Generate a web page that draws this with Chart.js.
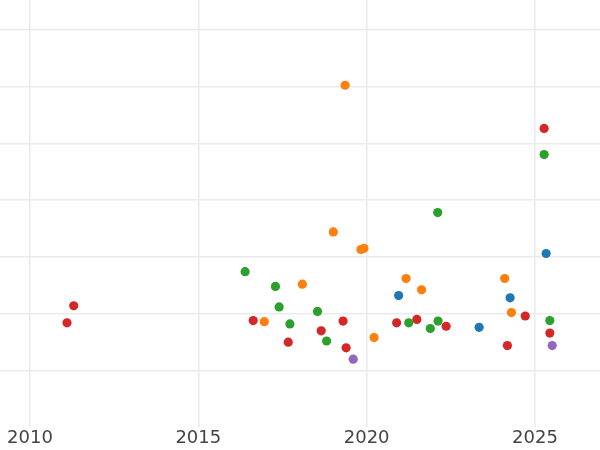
<!DOCTYPE html>
<html>
<head>
<meta charset="utf-8">
<script src="https://cdn.jsdelivr.net/npm/chart.js@4/dist/chart.umd.min.js"></script>
<style>
  html, body { margin: 0; padding: 0; background: #ffffff; }
  #wrap { width: 600px; height: 450px; position: relative; }
</style>
</head>
<body>
<div id="wrap"><canvas id="c"></canvas></div>
<script>
// Series (x = year, y = value in gridline units)
const blueX   = [2020.95, 2024.26, 2023.34, 2025.33];
const blueY   = [2.32, 2.28, 1.76, 3.06];

const orangeX = [2016.96, 2018.09, 2020.22, 2019.36, 2019.01, 2019.83, 2019.92, 2021.17, 2021.63, 2024.10, 2024.30];
const orangeY = [1.86, 2.52, 1.58, 6.02, 3.44, 3.13, 3.15, 2.62, 2.42, 2.62, 2.02];

const greenX  = [2016.39, 2017.29, 2017.40, 2017.72, 2018.54, 2018.81, 2021.25, 2021.89, 2022.12, 2025.44, 2022.11, 2025.27];
const greenY  = [2.74, 2.48, 2.12, 1.82, 2.04, 1.52, 1.84, 1.74, 1.87, 1.88, 3.78, 4.80];

const redX    = [2011.30, 2011.10, 2016.63, 2017.67, 2018.65, 2019.30, 2019.39, 2020.89, 2021.49, 2022.36, 2024.18, 2024.71, 2025.27, 2025.44];
const redY    = [2.14, 1.84, 1.88, 1.50, 1.70, 1.87, 1.40, 1.84, 1.90, 1.78, 1.44, 1.96, 5.26, 1.66];

const purpleX = [2019.60, 2025.51];
const purpleY = [1.20, 1.44];

const xTicks = [2010, 2015, 2020, 2025];

function pts(xs, ys) { return xs.map((x, i) => ({ x: x, y: ys[i] })); }

function ds(xs, ys, color) {
  return {
    data: pts(xs, ys),
    backgroundColor: color,
    borderColor: color,
    borderWidth: 0,
    pointRadius: 4.6,
    pointHoverRadius: 4.6
  };
}

new Chart(document.getElementById('c'), {
  type: 'scatter',
  data: {
    datasets: [
      ds(blueX, blueY, '#1f77b4'),
      ds(orangeX, orangeY, '#ff7f0e'),
      ds(greenX, greenY, '#2ca02c'),
      ds(redX, redY, '#d62728'),
      ds(purpleX, purpleY, '#9467bd')
    ]
  },
  options: {
    responsive: true,
    maintainAspectRatio: false,
    animation: false,
    layout: { padding: 0, autoPadding: false },
    plugins: { legend: { display: false }, tooltip: { enabled: false } },
    scales: {
      x: {
        type: 'linear',
        min: 2009.11,
        max: 2026.93,
        border: { display: false },
        grid: { color: '#ebebeb', lineWidth: 1.6, drawTicks: false },
        afterBuildTicks: (axis) => { axis.ticks = xTicks.map(v => ({ value: v })); },
        ticks: {
          padding: 0.5,
          color: '#444444',
          font: { family: 'DejaVu Sans', size: 18 },
          callback: (v) => String(v)
        }
      },
      y: {
        type: 'linear',
        min: 0,
        max: 7.52,
        border: { display: false },
        grid: {
          color: (ctx) => (ctx.tick && ctx.tick.value === 0) ? 'rgba(0,0,0,0)' : '#ebebeb',
          lineWidth: 1.4,
          drawTicks: false
        },
        ticks: { display: false, stepSize: 1, includeBounds: false }
      }
    }
  }
});
</script>
</body>
</html>
